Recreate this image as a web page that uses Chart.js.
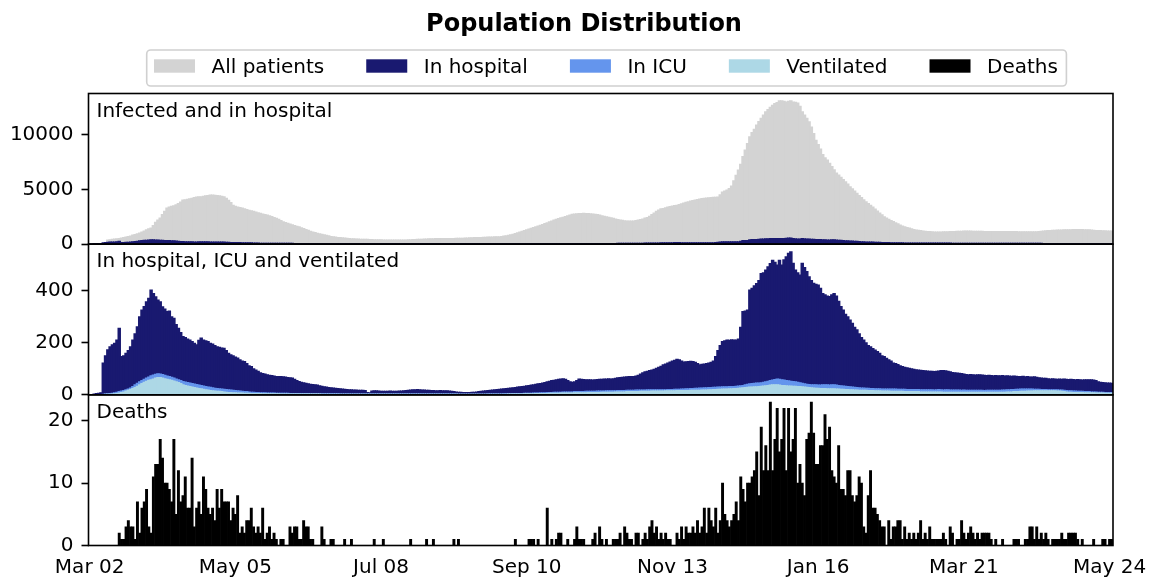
<!DOCTYPE html>
<html>
<head>
<meta charset="utf-8">
<script src="https://cdn.jsdelivr.net/npm/chart.js@4.4.1/dist/chart.umd.min.js"></script>
<style>
  html, body { margin: 0; padding: 0; background: #fff; }
</style>
</head>
<body>
<canvas id="popChart" width="1163" height="579"></canvas>
<script>
// daily values, first day = 2020-03-02
const startDate = '2020-03-02';
const tickLabels = ['Mar 02', 'May 05', 'Jul 08', 'Sep 10', 'Nov 13', 'Jan 16', 'Mar 21', 'May 24'];
const tickEvery = 64;
const panelTitles = ['Infected and in hospital', 'In hospital, ICU and ventilated', 'Deaths'];
const ticksAll = [0, 5000, 10000];
const ticksHosp = [0, 200, 400];
const ticksDeaths = [0, 10, 20];

const allPatients = [
  0,0,0,0,0,0,0,0,370,400,
  430,460,490,520,560,600,640,690,740,820,
  880,950,1020,1100,1200,1300,1400,1460,1700,2000,
  2200,2380,2700,3000,3290,3400,3450,3500,3600,3700,
  3850,4020,4050,4100,4150,4200,4250,4300,4320,4320,
  4380,4420,4450,4480,4480,4460,4450,4420,4380,4320,
  4200,4000,3800,3560,3450,3400,3350,3300,3220,3160,
  3100,3050,2990,2930,2870,2820,2760,2700,2650,2600,
  2520,2440,2360,2280,2160,2040,1980,1910,1840,1770,
  1700,1640,1580,1500,1420,1340,1260,1180,1100,1050,
  1000,950,900,850,800,750,700,670,640,610,
  590,570,550,530,510,490,480,470,460,450,
  440,430,430,420,410,400,400,390,390,380,
  380,380,370,370,370,370,370,370,380,380,
  390,400,410,420,430,440,450,460,470,480,
  490,490,500,500,510,510,510,520,520,520,
  520,530,530,540,540,550,560,570,580,590,
  600,600,610,620,630,640,640,650,660,670,
  680,700,730,760,800,850,900,960,1030,1100,
  1170,1240,1310,1380,1450,1520,1590,1660,1730,1800,
  1880,1960,2040,2120,2200,2270,2330,2400,2460,2530,
  2600,2660,2720,2750,2770,2790,2800,2810,2800,2800,
  2780,2760,2730,2700,2650,2600,2550,2500,2450,2400,
  2350,2300,2250,2200,2170,2140,2120,2100,2100,2120,
  2160,2200,2250,2300,2380,2440,2550,2700,2850,3000,
  3120,3220,3260,3320,3380,3430,3480,3520,3560,3620,
  3680,3750,3820,3880,3930,3980,4020,4070,4120,4170,
  4200,4220,4240,4260,4270,4270,4300,4500,4750,4850,
  4950,5090,5300,5800,6300,6770,7300,8000,8600,9200,
  9810,10200,10500,10880,11200,11500,11800,12100,12300,12500,
  12700,12850,12950,13100,13100,13050,13000,13050,13100,13000,
  12970,12900,12600,12100,11800,11500,11180,10700,10100,9500,
  9100,8700,8200,7900,7680,7400,7100,6800,6500,6310,
  6100,5900,5700,5500,5240,5050,4850,4650,4450,4250,
  4050,3880,3720,3550,3380,3200,3020,2850,2680,2500,
  2380,2270,2160,2060,1960,1850,1740,1660,1590,1520,
  1460,1400,1340,1290,1260,1230,1200,1180,1160,1140,
  1120,1110,1110,1110,1110,1120,1120,1130,1140,1150,
  1160,1170,1180,1180,1190,1190,1190,1190,1180,1180,
  1170,1170,1170,1160,1160,1160,1160,1160,1160,1160,
  1160,1160,1150,1150,1150,1140,1140,1140,1130,1130,
  1130,1120,1120,1120,1120,1120,1130,1150,1170,1190,
  1210,1230,1250,1260,1270,1280,1280,1290,1300,1310,
  1320,1320,1330,1330,1330,1330,1330,1320,1310,1300,
  1280,1260,1250,1240,1230,1220,1210,1200,1200,1200
];

const inHospital = [
  0,0,3,5,6,8,122,150,173,185,
  192,198,211,256,147,150,160,170,185,211,
  235,262,300,326,340,358,371,403,390,377,
  365,358,339,330,320,322,300,294,270,256,
  240,224,220,215,211,205,198,192,210,218,
  211,208,205,198,195,190,185,183,180,179,
  170,160,154,150,145,141,135,130,128,120,
  112,109,100,95,90,85,82,80,77,75,
  74,72,70,70,70,69,68,66,65,64,
  60,55,51,48,46,44,42,40,39,38,
  37,35,33,31,30,28,27,26,25,24,
  23,22,21,20,19,19,18,18,17,17,
  17,16,9,8,14,15,15,14,13,13,
  13,13,14,13,13,13,14,14,15,16,
  17,18,19,19,20,19,18,18,17,17,
  16,16,15,15,16,15,15,15,14,13,
  12,11,10,10,9,9,9,9,10,10,
  11,12,13,14,15,16,17,18,19,20,
  21,22,23,24,25,26,27,28,30,31,
  32,33,35,36,37,38,40,42,43,45,
  47,50,52,55,56,58,60,61,62,60,
  55,50,48,50,55,61,60,59,58,58,
  58,57,58,59,60,60,61,61,62,61,
  62,63,65,66,67,68,69,70,70,70,
  72,75,80,85,88,90,93,95,98,102,
  106,110,115,118,122,126,130,133,137,135,
  130,126,127,128,129,128,125,120,115,117,
  118,120,122,125,130,147,170,190,205,208,
  211,210,212,211,211,215,260,320,322,326,
  403,410,420,428,440,467,470,480,493,505,
  518,510,499,518,499,520,531,545,550,506,
  480,470,461,506,490,474,454,440,429,425,
  422,410,390,385,380,378,385,390,380,360,
  340,326,310,300,288,275,260,250,235,220,
  211,200,190,185,178,172,166,160,150,147,
  140,135,130,122,120,116,112,109,106,104,
  102,100,98,96,95,94,93,92,91,90,
  90,89,90,91,93,93,92,90,88,86,
  85,84,83,82,80,78,77,78,77,76,
  77,77,76,75,74,75,74,73,74,73,
  73,74,72,73,72,71,72,71,70,70,
  71,69,70,68,68,69,67,65,64,63,
  63,62,61,62,61,60,61,60,61,60,
  59,60,59,58,59,58,57,58,58,58,
  58,57,55,50,48,47,46,45,45,44
];

const inICU = [
  0,0,0,0,0,0,2,3,4,5,
  6,8,10,12,14,16,19,22,26,32,
  38,44,50,55,60,64,68,73,76,79,
  81,80,78,75,72,70,67,64,61,58,
  55,51,49,47,45,43,41,39,37,36,
  34,32,30,29,27,25,24,23,22,21,
  20,19,18,17,16,15,14,13,12,12,
  11,10,10,9,9,8,8,8,7,7,
  7,7,6,6,6,6,6,6,5,5,
  5,5,5,5,5,5,5,4,4,4,
  4,4,4,4,4,4,4,4,4,4,
  3,3,3,3,3,3,3,3,3,3,
  3,3,3,3,3,3,3,3,3,3,
  3,3,3,3,3,3,3,3,3,3,
  3,3,3,3,3,3,3,3,3,3,
  3,3,3,3,3,3,3,3,3,3,
  3,3,2,2,2,2,2,2,2,2,
  2,2,2,2,2,3,3,3,3,3,
  3,3,4,4,4,4,5,5,5,5,
  5,6,6,6,6,7,7,7,8,8,
  8,9,9,9,10,10,10,10,11,11,
  11,11,11,12,12,12,12,12,13,13,
  13,13,13,14,14,14,14,15,15,15,
  15,15,16,16,16,16,17,17,17,17,
  18,18,18,18,18,19,19,19,19,19,
  19,19,19,19,20,20,20,21,21,21,
  22,22,23,23,24,24,25,25,26,26,
  27,27,28,28,29,29,30,30,31,31,
  31,32,32,32,33,34,35,36,38,40,
  42,43,44,45,45,46,48,50,52,55,
  57,59,61,60,58,57,55,54,52,51,
  50,48,46,44,42,40,39,38,38,38,
  37,37,38,38,38,37,38,38,37,36,
  35,34,33,32,31,30,29,28,27,26,
  26,25,25,24,24,23,23,23,22,22,
  22,22,22,22,22,21,21,21,21,20,
  20,20,20,20,20,19,19,19,19,19,
  19,18,19,20,19,18,19,19,18,18,
  18,18,18,17,18,17,17,17,17,17,
  17,17,17,16,17,17,17,17,17,17,
  17,18,18,19,19,20,20,21,21,22,
  22,22,22,22,22,21,21,21,20,20,
  20,19,19,19,19,19,18,18,17,16,
  15,15,14,14,13,13,13,12,12,12,
  11,11,11,10,10,10,9,9,9,9
];

const ventilated = [
  0,0,0,0,0,0,0,1,1,2,
  3,4,5,7,9,11,14,17,20,24,
  28,33,38,43,48,52,56,58,61,64,
  66,66,64,62,60,58,56,53,50,47,
  43,38,36,34,32,30,28,26,24,23,
  21,19,18,16,15,14,13,13,12,11,
  10,9,9,8,8,7,7,7,6,6,
  6,5,5,5,5,5,4,4,4,4,
  4,4,4,4,3,3,3,3,3,3,
  3,3,3,3,3,3,3,3,3,3,
  3,3,2,2,2,2,2,2,2,2,
  2,2,2,2,2,2,2,2,2,2,
  2,2,2,2,2,2,2,2,2,2,
  2,2,2,2,2,2,2,2,2,2,
  2,2,2,2,2,2,2,2,2,2,
  2,2,2,2,2,2,2,2,1,1,
  1,1,1,1,1,1,1,1,1,1,
  1,1,1,1,1,1,2,2,2,2,
  2,2,2,2,3,3,3,3,3,3,
  3,4,4,4,4,4,5,5,5,5,
  5,5,6,6,6,6,6,7,7,7,
  7,7,7,8,8,8,8,8,8,9,
  9,9,9,9,9,10,10,10,10,10,
  10,11,11,11,11,11,12,12,12,12,
  12,12,13,13,13,13,13,14,14,14,
  14,14,14,15,15,15,15,15,16,16,
  16,16,16,16,17,17,17,17,17,18,
  18,18,19,19,20,20,21,21,22,22,
  22,23,23,24,24,25,26,27,28,29,
  30,30,31,31,32,33,34,35,36,37,
  38,38,38,37,36,36,35,34,34,33,
  33,32,32,31,30,29,28,27,26,25,
  25,24,24,24,23,23,23,23,22,22,
  21,21,20,20,19,19,18,18,17,17,
  17,17,16,16,16,15,15,15,14,14,
  14,14,13,13,13,13,13,13,12,12,
  12,12,12,12,12,11,11,11,11,11,
  11,11,11,11,11,10,10,10,10,10,
  10,10,10,10,10,10,10,10,10,10,
  10,10,10,10,10,10,10,10,10,10,
  10,10,10,11,11,11,12,12,12,13,
  13,13,14,14,14,15,15,15,15,15,
  15,15,15,15,15,14,14,13,12,11,
  10,10,9,9,9,9,9,8,8,8,
  8,8,7,7,7,7,6,6,6,6
];

const deaths = [
  0,0,0,0,0,0,0,0,0,0,
  0,0,0,2,1,1,3,4,3,3,
  1,7,2,6,7,9,3,2,11,13,
  13,17,14,10,10,9,7,17,5,12,
  7,8,11,6,6,14,3,6,7,5,
  11,9,6,5,6,4,9,6,9,7,
  7,7,4,6,5,8,2,3,2,4,
  4,6,3,2,3,2,6,1,2,3,
  1,2,1,0,1,1,0,0,3,2,
  3,3,1,1,4,3,3,1,1,0,
  0,0,3,1,0,0,1,1,0,0,
  0,0,1,0,0,1,0,0,0,0,
  0,0,0,0,0,1,0,0,0,1,
  0,0,0,0,0,0,0,0,0,0,
  0,1,0,0,0,0,0,0,1,0,
  0,1,0,0,0,0,0,0,0,0,
  1,0,1,0,0,0,0,0,0,0,
  0,0,0,0,0,0,0,0,0,0,
  0,0,0,0,0,0,0,1,0,0,
  0,0,0,1,1,1,0,1,0,0,
  0,6,0,1,0,1,2,2,0,0,
  1,0,0,1,3,1,1,1,0,0,
  0,1,2,0,3,1,0,1,0,0,
  1,1,1,2,0,3,2,1,1,0,
  2,2,0,1,2,1,3,4,2,3,
  1,2,1,2,1,1,0,0,2,1,
  3,1,3,2,2,3,2,4,2,3,
  6,2,6,4,3,6,2,4,10,5,
  4,3,4,5,7,4,11,9,7,10,
  10,11,12,15,8,19,12,16,12,23,
  12,17,22,15,17,22,12,22,15,17,
  22,10,13,10,8,17,18,23,18,13,
  13,16,16,21,17,19,12,11,10,16,
  9,9,8,12,12,8,7,8,11,10,
  3,2,8,12,6,6,5,4,3,3,
  0,4,1,3,3,4,4,1,3,1,
  2,1,2,1,2,4,1,2,1,3,
  1,1,1,1,1,2,1,0,3,2,
  0,1,1,4,2,1,2,3,2,1,
  2,1,2,2,2,2,1,0,1,0,
  0,1,0,0,0,0,1,1,1,0,
  0,1,1,3,3,1,3,1,2,1,
  2,1,0,1,1,1,1,2,1,1,
  2,2,2,2,1,0,1,0,0,0,
  0,1,0,0,0,1,1,0,1,1
];

// one label per day
const days = [];
const d0 = new Date(startDate + 'T00:00:00Z');
for (let i = 0; i < deaths.length; i++) {
  const d = new Date(d0.getTime() + i * 86400000);
  days.push(d.toISOString().slice(0, 10));
}

const colors = {
  all: '#d3d3d3',
  hosp: '#191970',
  icu: '#6495ed',
  vent: '#add8e6',
  deaths: '#000000'
};

const FONT = '"DejaVu Sans", "Liberation Sans", sans-serif';
Chart.defaults.font.family = FONT;
Chart.defaults.font.size = 20;
Chart.defaults.color = '#000';

function yAxis(max, tickValues) {
  return {
    position: 'left',
    stack: 'panels',
    stackWeight: 1,
    min: 0,
    max: max,
    grid: { drawOnChartArea: false, tickLength: 7, tickWidth: 1.6, tickColor: '#000' },
    border: { display: false },
    ticks: {
      autoSkip: false,
      padding: 8,
      callback: function (v) { return String(v); }
    },
    afterBuildTicks: function (scale) {
      scale.ticks = tickValues.map(function (v) { return { value: v }; });
    },
    afterFit: function (scale) { scale.width = 80; }
  };
}

// frames, panel names, title and legend
const decorations = {
  id: 'decorations',
  afterDatasetsDraw: function (chart) {
    const ctx = chart.ctx;
    const area = chart.chartArea;
    ctx.save();
    ctx.strokeStyle = '#000';
    ctx.lineWidth = 1.6;
    ['yAll', 'yHosp', 'yDeaths'].forEach(function (id, i) {
      const s = chart.scales[id];
      ctx.strokeRect(area.left, s.top, area.right - area.left, s.bottom - s.top);
      ctx.fillStyle = '#000';
      ctx.font = '20px ' + FONT;
      ctx.textBaseline = 'alphabetic';
      ctx.fillText(panelTitles[i], area.left + 8, s.top + 23);
    });
    ctx.restore();
  },
  afterDraw: function (chart) {
    const ctx = chart.ctx;
    ctx.save();
    ctx.fillStyle = '#000';
    ctx.font = 'bold 24px ' + FONT;
    ctx.textAlign = 'center';
    ctx.textBaseline = 'alphabetic';
    ctx.fillText('Population Distribution', 584, 30.5);

    const items = chart.data.datasets.filter(function (d) { return d.inLegend !== false; });
    ctx.font = '20px ' + FONT;
    ctx.textAlign = 'left';
    let x = 154;
    const xs = items.map(function (d) {
      const p = x;
      x += 41 + 16.5 + ctx.measureText(d.label).width + 42;
      return p;
    });
    const left = 146.7, top = 50, right = x - 42 + 8.5, bottom = 86, r = 4;
    ctx.beginPath();
    ctx.moveTo(left + r, top);
    ctx.lineTo(right - r, top);
    ctx.arcTo(right, top, right, top + r, r);
    ctx.lineTo(right, bottom - r);
    ctx.arcTo(right, bottom, right - r, bottom, r);
    ctx.lineTo(left + r, bottom);
    ctx.arcTo(left, bottom, left, bottom - r, r);
    ctx.lineTo(left, top + r);
    ctx.arcTo(left, top, left + r, top, r);
    ctx.closePath();
    ctx.fillStyle = '#fff';
    ctx.fill();
    ctx.strokeStyle = '#d0d0d0';
    ctx.lineWidth = 1.6;
    ctx.stroke();
    items.forEach(function (d, i) {
      ctx.fillStyle = d.backgroundColor;
      ctx.fillRect(xs[i], 59.3, 41, 13.4);
      ctx.fillStyle = '#000';
      ctx.fillText(d.label, xs[i] + 57.5, 73.3);
    });
    ctx.restore();
  }
};

new Chart(document.getElementById('popChart'), {
  type: 'bar',
  data: {
    labels: days,
    datasets: [
      { label: 'All patients', data: allPatients, yAxisID: 'yAll', backgroundColor: colors.all, order: 5, inflateAmount: 0.6 },
      { label: 'In hospital', data: inHospital, yAxisID: 'yHosp', backgroundColor: colors.hosp, order: 4, inflateAmount: 0.6 },
      { label: 'In ICU', data: inICU, yAxisID: 'yHosp', backgroundColor: colors.icu, order: 3, inflateAmount: 0.6 },
      { label: 'Ventilated', data: ventilated, yAxisID: 'yHosp', backgroundColor: colors.vent, order: 2, inflateAmount: 0.6 },
      { label: 'Deaths', data: deaths, yAxisID: 'yDeaths', backgroundColor: colors.deaths, order: 1 },
      { label: 'In hospital', data: inHospital, yAxisID: 'yAll', backgroundColor: colors.hosp, order: 0, inLegend: false, inflateAmount: 0.6 }
    ]
  },
  options: {
    responsive: false,
    animation: false,
    events: [],
    layout: { padding: { top: 93.5, left: 8.5, right: 50, bottom: 0 } },
    datasets: {
      bar: { barPercentage: 1, categoryPercentage: 1, grouped: false, borderWidth: 0 }
    },
    plugins: {
      legend: { display: false },
      title: { display: false },
      tooltip: { enabled: false }
    },
    scales: {
      x: {
        type: 'category',
        offset: true,
        grid: {
          drawOnChartArea: false,
          tickLength: 7,
          tickWidth: 1.6,
          tickColor: function (c) { return c.index % tickEvery === 0 ? '#000' : 'rgba(0,0,0,0)'; }
        },
        border: { display: false },
        ticks: {
          autoSkip: false,
          maxRotation: 0,
          padding: 5,
          font: { size: 20, lineHeight: 1 },
          callback: function (v, i) { return i % tickEvery === 0 ? tickLabels[i / tickEvery] : null; }
        },
        afterFit: function (scale) { scale.height = 33.5; }
      },
      // stacked left axes are placed top to bottom from the last one defined
      yDeaths: yAxis(24.15, ticksDeaths),
      yHosp: yAxis(580, ticksHosp),
      yAll: yAxis(13776, ticksAll)
    }
  },
  plugins: [decorations]
});
</script>
</body>
</html>
